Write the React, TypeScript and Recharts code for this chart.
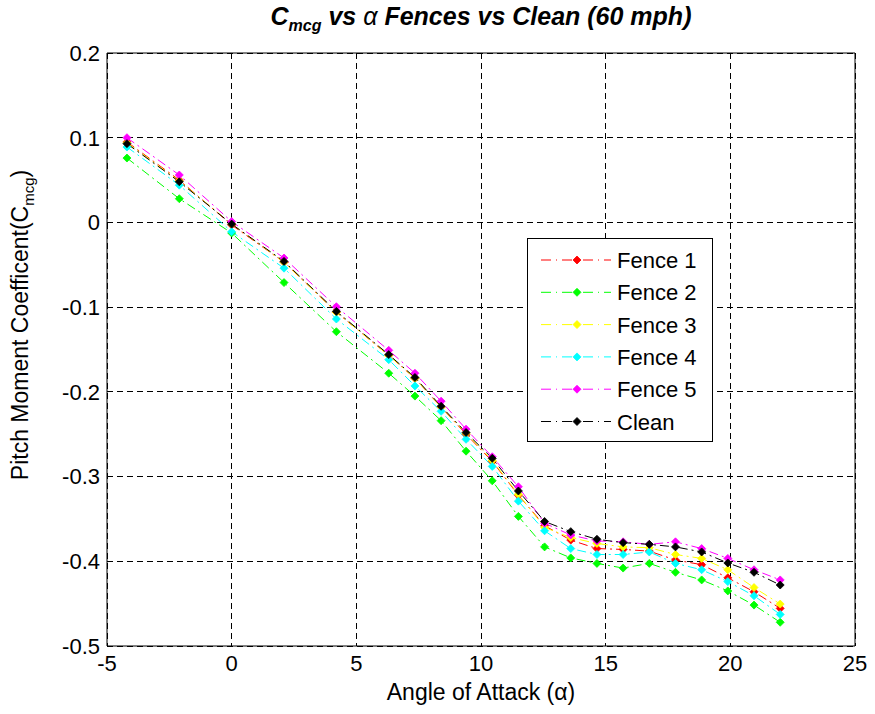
import React from 'react';
import { LineChart, Line, XAxis, YAxis, CartesianGrid, ReferenceLine, Legend } from 'recharts';

// angle of attack (deg)
const alpha = [-4.2, -2.1, 0, 2.1, 4.2, 6.3, 7.35, 8.4, 9.4, 10.45, 11.5, 12.55, 13.6, 14.65, 15.7, 16.75, 17.8, 18.85, 19.9, 20.95, 22.0];

const fence1 = [0.095, 0.05, -0.003, -0.047, -0.106, -0.157, -0.184, -0.218, -0.25, -0.282, -0.322, -0.358, -0.375, -0.385, -0.386, -0.388, -0.3985, -0.404, -0.4195, -0.436, -0.4556];
const fence2 = [0.076, 0.028, -0.0125, -0.071, -0.129, -0.178, -0.205, -0.234, -0.27, -0.305, -0.347, -0.383, -0.396, -0.4025, -0.408, -0.4025, -0.413, -0.422, -0.435, -0.4517, -0.472];
const fence3 = [0.094, 0.049, -0.002, -0.047, -0.106, -0.157, -0.184, -0.218, -0.249, -0.281, -0.321, -0.36, -0.372, -0.379, -0.383, -0.384, -0.392, -0.3966, -0.41, -0.431, -0.4505];
const fence4 = [0.089, 0.044, -0.011, -0.054, -0.114, -0.162, -0.193, -0.223, -0.256, -0.288, -0.329, -0.364, -0.385, -0.392, -0.392, -0.389, -0.4025, -0.41, -0.424, -0.4407, -0.4627];
const fence5 = [0.1, 0.056, 0.001, -0.042, -0.0995, -0.151, -0.178, -0.211, -0.244, -0.2766, -0.312, -0.355, -0.369, -0.376, -0.377, -0.38, -0.377, -0.385, -0.3966, -0.41, -0.422];
const clean = [0.093, 0.048, -0.002, -0.046, -0.105, -0.156, -0.183, -0.217, -0.248, -0.2785, -0.317, -0.353, -0.365, -0.374, -0.378, -0.38, -0.383, -0.389, -0.402, -0.413, -0.428];

const xTicks = [-5, 0, 5, 10, 15, 20, 25];
const yTicks = [-0.5, -0.4, -0.3, -0.2, -0.1, 0, 0.1, 0.2];

const series = [
  { key: 'fence1', name: 'Fence 1', color: '#ff0000', values: fence1 },
  { key: 'fence2', name: 'Fence 2', color: '#00ff00', values: fence2 },
  { key: 'fence3', name: 'Fence 3', color: '#ffff00', values: fence3 },
  { key: 'fence4', name: 'Fence 4', color: '#00ffff', values: fence4 },
  { key: 'fence5', name: 'Fence 5', color: '#ff00ff', values: fence5 },
  { key: 'clean', name: 'Clean', color: '#000000', values: clean },
];

const data = alpha.map((a, i) => {
  const row: any = { alpha: a };
  series.forEach(s => { row[s.key] = s.values[i]; });
  return row;
});

const FONT = '"Liberation Sans", Arial, sans-serif';
const DASH = '9 4 2 4';

const Diamond = (props: any) => {
  const { cx, cy, fill } = props;
  if (cx == null || cy == null) return null;
  const r = 4;
  return <polygon points={`${cx},${cy - r} ${cx + r},${cy} ${cx},${cy + r} ${cx - r},${cy}`} fill={fill} stroke={fill} strokeWidth={0.8} />;
};

const LegendBox = () => (
  <svg width={186} height={204} style={{ display: 'block' }}>
    <rect x={0.5} y={0.5} width={185} height={203} fill="#fff" stroke="#000" strokeWidth={1} />
    {series.map((s, i) => {
      const y = 22 + i * 32.3;
      return (
        <g key={s.key}>
          <line x1={14} y1={y} x2={84} y2={y} stroke={s.color} strokeWidth={1} strokeDasharray="10 5 1 5" />
          <Diamond cx={50} cy={y} fill={s.color} />
          <text x={90} y={y + 8} fontSize={22} fontFamily={FONT} fill="#000">{s.name}</text>
        </g>
      );
    })}
  </svg>
);

export default function App() {
  return (
    <div style={{ position: 'absolute', left: 0, top: 0, width: 875, height: 714, background: '#fff', fontFamily: FONT }}>
      <div style={{ position: 'absolute', left: 107, width: 748, top: 2, textAlign: 'center', fontSize: 25, fontWeight: 'bold', fontStyle: 'italic', color: '#000' }}>
        C<sub style={{ fontSize: 16 }}>mcg</sub> vs <span style={{ fontWeight: 'normal' }}>α</span> Fences vs Clean (60 mph)
      </div>
      <LineChart width={875} height={714} data={data} margin={{ top: 53, right: 20, bottom: 38, left: 47 }}>
        <CartesianGrid stroke="#000" strokeDasharray="6 4" shapeRendering="crispEdges" />
        <XAxis
          dataKey="alpha"
          type="number"
          domain={[-5, 25]}
          ticks={xTicks}
          height={30}
          stroke="#000"
          tickLine={false}
          tickSize={0}
          tickMargin={9}
          tick={{ fill: '#000', fontSize: 22, fontFamily: FONT }}
        />
        <YAxis
          type="number"
          domain={[-0.5, 0.2]}
          ticks={yTicks}
          width={60}
          stroke="#000"
          tickLine={false}
          tickSize={0}
          tickMargin={7}
          tick={{ fill: '#000', fontSize: 22, fontFamily: FONT }}
        />
        <ReferenceLine y={0.2} stroke="#000" strokeWidth={1} />
        <ReferenceLine x={25} stroke="#000" strokeWidth={1} />
        {series.map(s => (
          <Line
            key={s.key}
            dataKey={s.key}
            name={s.name}
            stroke={s.color}
            strokeWidth={1}
            strokeDasharray={DASH}
            dot={<Diamond fill={s.color} />}
            activeDot={false}
            isAnimationActive={false}
          />
        ))}
        <Legend
          layout="vertical"
          align="center"
          verticalAlign="middle"
          content={() => <LegendBox />}
          wrapperStyle={{ position: 'absolute', left: 527, top: 238, width: 186, height: 204 }}
        />
      </LineChart>
      <div style={{ position: 'absolute', left: 107, width: 748, top: 679, textAlign: 'center', fontSize: 23, color: '#000' }}>
        Angle of Attack (α)
      </div>
      <div style={{ position: 'absolute', left: 22, top: 325, width: 0, height: 0 }}>
        <div style={{ position: 'absolute', transform: 'translate(-50%, -50%) rotate(-90deg)', whiteSpace: 'nowrap', fontSize: 23, color: '#000' }}>
          Pitch Moment Coefficent(C<sub style={{ fontSize: 15 }}>mcg</sub>)
        </div>
      </div>
    </div>
  );
}
